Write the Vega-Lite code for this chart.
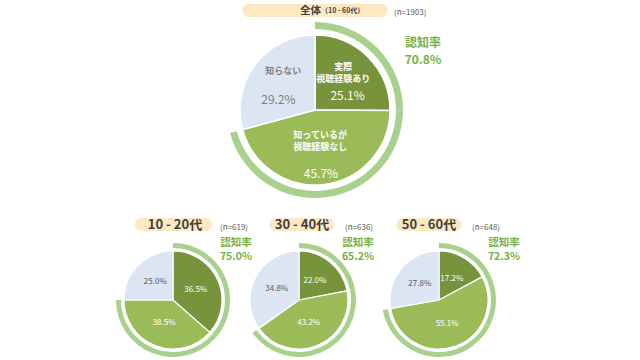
{
  "$schema": "https://vega.github.io/schema/vega-lite/v6.json",
  "padding": {"left": 0, "top": 4, "right": 0, "bottom": 0},
  "background": "white",
  "config": {"view": {"stroke": null}, "font": "Noto Sans CJK JP", "text": {"font": "Noto Sans CJK JP"}},
  "datasets": {
    "slices": [
      {"group": "全体", "cat": "実際視聴経験あり", "name": "実際\n視聴経験あり", "pct": 25.1},
      {"group": "全体", "cat": "知っているが視聴経験なし", "name": "知っているが\n視聴経験なし", "pct": 45.7},
      {"group": "全体", "cat": "知らない", "name": "知らない", "pct": 29.2},
      {"group": "10 - 20代", "cat": "実際視聴経験あり", "name": "実際\n視聴経験あり", "pct": 36.5},
      {"group": "10 - 20代", "cat": "知っているが視聴経験なし", "name": "知っているが\n視聴経験なし", "pct": 38.5},
      {"group": "10 - 20代", "cat": "知らない", "name": "知らない", "pct": 25.0},
      {"group": "30 - 40代", "cat": "実際視聴経験あり", "name": "実際\n視聴経験あり", "pct": 22.0},
      {"group": "30 - 40代", "cat": "知っているが視聴経験なし", "name": "知っているが\n視聴経験なし", "pct": 43.2},
      {"group": "30 - 40代", "cat": "知らない", "name": "知らない", "pct": 34.8},
      {"group": "50 - 60代", "cat": "実際視聴経験あり", "name": "実際\n視聴経験あり", "pct": 17.2},
      {"group": "50 - 60代", "cat": "知っているが視聴経験なし", "name": "知っているが\n視聴経験なし", "pct": 55.1},
      {"group": "50 - 60代", "cat": "知らない", "name": "知らない", "pct": 27.8}
    ],
    "groups": [
      {"group": "全体", "n": 1903, "rate": 70.8},
      {"group": "10 - 20代", "n": 619, "rate": 75.0},
      {"group": "30 - 40代", "n": 636, "rate": 65.2},
      {"group": "50 - 60代", "n": 648, "rate": 72.3}
    ]
  },
  "spacing": 20,
  "center": true,
  "resolve": {"scale": {"theta": "independent"}},
  "vconcat": [
    {
      "spacing": 5, "center": true, "bounds": "flush",
      "resolve": {"scale": {"theta": "independent"}},
      "vconcat": [
        {
          "width": 145, "height": 13,
          "view": {"fill": "#fce9c4", "stroke": null, "cornerRadius": 6},
          "data": {"name": "groups"},
          "transform": [{"filter": "datum.group === '全体'"}, {"calculate": "'(n=' + datum.n + ')'", "as": "nLabel"}],
          "layer": [
            {"mark": {"type": "text", "text": "全体", "align": "left", "dx": -15, "fontSize": 10.5, "fontWeight": "bold", "color": "#404040"}},
            {"mark": {"type": "text", "text": "（10 - 60代）", "align": "left", "dx": 6, "dy": 0.5, "fontSize": 7, "fontWeight": "bold", "color": "#404040"}},
            {"mark": {"type": "text", "align": "left", "dx": 79, "dy": 2, "fontSize": 8, "color": "#595959"}, "encoding": {"text": {"field": "nLabel"}}}
          ]
        },
        {
          "width": 630, "height": 176,
          "layer": [
            {
              "data": {"name": "slices"},
              "transform": [
                {"filter": "datum.group === '全体'"},
                {"calculate": "indexof(['実際視聴経験あり','知っているが視聴経験なし','知らない'], datum.cat)", "as": "k"},
                {"calculate": "format(datum.pct, '.1f') + '%'", "as": "pctLabel"}
              ],
              "layer": [
                {"mark": {"type": "arc", "radius": 88, "radius2": 81},
                 "encoding": {"theta": {"field": "pct", "type": "quantitative", "stack": true}, "order": {"field": "k", "type": "quantitative"},
                   "color": {"condition": {"test": "datum.cat !== '知らない'", "value": "#a9d18e"}, "value": "transparent"}}},
                {"mark": {"type": "arc", "radius": 75, "stroke": "white", "strokeWidth": 1.5},
                 "encoding": {"theta": {"field": "pct", "type": "quantitative", "stack": true}, "order": {"field": "k", "type": "quantitative"},
                   "color": {"field": "cat", "type": "nominal", "scale": {"domain": ["実際視聴経験あり", "知っているが視聴経験なし", "知らない"], "range": ["#77933c", "#9bbb59", "#dce6f2"]}, "legend": null}}},
                {"mark": {"type": "text", "radius": 40, "baseline": "bottom", "dy": -10, "lineBreak": "\n", "lineHeight": 12, "fontSize": 9, "fontWeight": "bold"},
                 "encoding": {"theta": {"field": "pct", "type": "quantitative", "stack": true}, "order": {"field": "k", "type": "quantitative"}, "detail": {"field": "cat"},
                   "text": {"field": "name"},
                   "color": {"condition": {"test": "datum.cat === '知らない'", "value": "#7f7f7f"}, "value": "white"}}},
                {"mark": {"type": "text", "radius": 46, "dy": 18, "fontSize": 12},
                 "encoding": {"theta": {"field": "pct", "type": "quantitative", "stack": true}, "order": {"field": "k", "type": "quantitative"}, "detail": {"field": "cat"},
                   "text": {"field": "pctLabel"},
                   "color": {"condition": {"test": "datum.cat === '知らない'", "value": "#7f7f7f"}, "value": "white"}}}
              ]
            },
            {
              "data": {"name": "groups"},
              "transform": [{"filter": "datum.group === '全体'"}, {"calculate": "format(datum.rate, '.1f') + '%'", "as": "rateLabel"}],
              "layer": [
                {"mark": {"type": "text", "text": "認知率", "dx": 108, "dy": -67, "fontSize": 12, "fontWeight": "bold", "color": "#76b043"}},
                {"mark": {"type": "text", "dx": 108, "dy": -50, "fontSize": 12, "fontWeight": "bold", "color": "#76b043"}, "encoding": {"text": {"field": "rateLabel"}}}
              ]
            }
          ]
        }
      ]
    },
    {
      "columns": 3,
      "spacing": {"row": 9, "column": 0},
      "align": "each",
      "bounds": "flush",
      "resolve": {"scale": {"theta": "independent"}},
      "concat": [
        {
          "width": 126, "height": 13,
          "data": {"name": "groups"},
          "transform": [{"filter": "datum.group === '10 - 20代'"}, {"calculate": "'(n=' + datum.n + ')'", "as": "nLabel"}],
          "layer": [
            {"mark": {"type": "point", "shape": "M -32 -6.5 L 32 -6.5 A 6.5 6.5 0 0 1 32 6.5 L -32 6.5 A 6.5 6.5 0 0 1 -32 -6.5 Z", "size": 4, "filled": true, "opacity": 1, "strokeWidth": 0, "color": "#fce9c4", "xOffset": 0.5}},
            {"mark": {"type": "text", "dx": 2, "fontSize": 13, "fontWeight": "bold", "color": "#404040"}, "encoding": {"text": {"field": "group"}}},
            {"mark": {"type": "text", "align": "left", "dx": 47, "dy": 3, "fontSize": 8, "color": "#595959"}, "encoding": {"text": {"field": "nLabel"}}}
          ]
        },
        {
          "width": 126, "height": 13,
          "data": {"name": "groups"},
          "transform": [{"filter": "datum.group === '30 - 40代'"}, {"calculate": "'(n=' + datum.n + ')'", "as": "nLabel"}],
          "layer": [
            {"mark": {"type": "point", "shape": "M -26 -6.5 L 26 -6.5 A 6.5 6.5 0 0 1 26 6.5 L -26 6.5 A 6.5 6.5 0 0 1 -26 -6.5 Z", "size": 4, "filled": true, "opacity": 1, "strokeWidth": 0, "color": "#fce9c4", "xOffset": 3}},
            {"mark": {"type": "text", "dx": 3, "fontSize": 13, "fontWeight": "bold", "color": "#404040"}, "encoding": {"text": {"field": "group"}}},
            {"mark": {"type": "text", "align": "left", "dx": 46, "dy": 3, "fontSize": 8, "color": "#595959"}, "encoding": {"text": {"field": "nLabel"}}}
          ]
        },
        {
          "width": 154, "height": 13,
          "data": {"name": "groups"},
          "transform": [{"filter": "datum.group === '50 - 60代'"}, {"calculate": "'(n=' + datum.n + ')'", "as": "nLabel"}],
          "layer": [
            {"mark": {"type": "point", "shape": "M -26 -6.5 L 26 -6.5 A 6.5 6.5 0 0 1 26 6.5 L -26 6.5 A 6.5 6.5 0 0 1 -26 -6.5 Z", "size": 4, "filled": true, "opacity": 1, "strokeWidth": 0, "color": "#fce9c4", "xOffset": -10}},
            {"mark": {"type": "text", "dx": -10, "fontSize": 13, "fontWeight": "bold", "color": "#404040"}, "encoding": {"text": {"field": "group"}}},
            {"mark": {"type": "text", "align": "left", "dx": 33, "dy": 3, "fontSize": 8, "color": "#595959"}, "encoding": {"text": {"field": "nLabel"}}}
          ]
        },
        {
          "width": 126, "height": 120,
          "layer": [
            {
              "data": {"name": "slices"},
              "transform": [
                {"filter": "datum.group === '10 - 20代'"},
                {"calculate": "indexof(['実際視聴経験あり','知っているが視聴経験なし','知らない'], datum.cat)", "as": "k"},
                {"calculate": "format(datum.pct, '.1f') + '%'", "as": "pctLabel"}
              ],
              "layer": [
                {"mark": {"type": "arc", "radius": 57, "radius2": 52},
                 "encoding": {"theta": {"field": "pct", "type": "quantitative", "stack": true}, "order": {"field": "k", "type": "quantitative"},
                   "color": {"condition": {"test": "datum.cat !== '知らない'", "value": "#a9d18e"}, "value": "transparent"}}},
                {"mark": {"type": "arc", "radius": 49, "stroke": "white", "strokeWidth": 1.2},
                 "encoding": {"theta": {"field": "pct", "type": "quantitative", "stack": true}, "order": {"field": "k", "type": "quantitative"},
                   "color": {"field": "cat", "type": "nominal", "scale": {"domain": ["実際視聴経験あり", "知っているが視聴経験なし", "知らない"], "range": ["#77933c", "#9bbb59", "#dce6f2"]}, "legend": null}}},
                {"mark": {"type": "text", "radius": 25, "fontSize": 8},
                 "encoding": {"theta": {"field": "pct", "type": "quantitative", "stack": true}, "order": {"field": "k", "type": "quantitative"}, "detail": {"field": "cat"},
                   "text": {"field": "pctLabel"},
                   "color": {"condition": {"test": "datum.cat === '知らない'", "value": "#595959"}, "value": "white"}}}
              ]
            },
            {
              "data": {"name": "groups"},
              "transform": [{"filter": "datum.group === '10 - 20代'"}, {"calculate": "format(datum.rate, '.1f') + '%'", "as": "rateLabel"}],
              "layer": [
                {"mark": {"type": "text", "text": "認知率", "dx": 63, "dy": -57, "fontSize": 10.5, "fontWeight": "bold", "color": "#76b043"}},
                {"mark": {"type": "text", "dx": 63, "dy": -43, "fontSize": 10.5, "fontWeight": "bold", "color": "#76b043"}, "encoding": {"text": {"field": "rateLabel"}}}
              ]
            }
          ]
        },
        {
          "width": 126, "height": 120,
          "layer": [
            {
              "data": {"name": "slices"},
              "transform": [
                {"filter": "datum.group === '30 - 40代'"},
                {"calculate": "indexof(['実際視聴経験あり','知っているが視聴経験なし','知らない'], datum.cat)", "as": "k"},
                {"calculate": "format(datum.pct, '.1f') + '%'", "as": "pctLabel"}
              ],
              "layer": [
                {"mark": {"type": "arc", "radius": 57, "radius2": 52},
                 "encoding": {"theta": {"field": "pct", "type": "quantitative", "stack": true}, "order": {"field": "k", "type": "quantitative"},
                   "color": {"condition": {"test": "datum.cat !== '知らない'", "value": "#a9d18e"}, "value": "transparent"}}},
                {"mark": {"type": "arc", "radius": 49, "stroke": "white", "strokeWidth": 1.2},
                 "encoding": {"theta": {"field": "pct", "type": "quantitative", "stack": true}, "order": {"field": "k", "type": "quantitative"},
                   "color": {"field": "cat", "type": "nominal", "scale": {"domain": ["実際視聴経験あり", "知っているが視聴経験なし", "知らない"], "range": ["#77933c", "#9bbb59", "#dce6f2"]}, "legend": null}}},
                {"mark": {"type": "text", "radius": 25, "fontSize": 8},
                 "encoding": {"theta": {"field": "pct", "type": "quantitative", "stack": true}, "order": {"field": "k", "type": "quantitative"}, "detail": {"field": "cat"},
                   "text": {"field": "pctLabel"},
                   "color": {"condition": {"test": "datum.cat === '知らない'", "value": "#595959"}, "value": "white"}}}
              ]
            },
            {
              "data": {"name": "groups"},
              "transform": [{"filter": "datum.group === '30 - 40代'"}, {"calculate": "format(datum.rate, '.1f') + '%'", "as": "rateLabel"}],
              "layer": [
                {"mark": {"type": "text", "text": "認知率", "dx": 59, "dy": -57, "fontSize": 10.5, "fontWeight": "bold", "color": "#76b043"}},
                {"mark": {"type": "text", "dx": 59, "dy": -43, "fontSize": 10.5, "fontWeight": "bold", "color": "#76b043"}, "encoding": {"text": {"field": "rateLabel"}}}
              ]
            }
          ]
        },
        {
          "width": 154, "height": 120,
          "layer": [
            {
              "data": {"name": "slices"},
              "transform": [
                {"filter": "datum.group === '50 - 60代'"},
                {"calculate": "indexof(['実際視聴経験あり','知っているが視聴経験なし','知らない'], datum.cat)", "as": "k"},
                {"calculate": "format(datum.pct, '.1f') + '%'", "as": "pctLabel"}
              ],
              "layer": [
                {"mark": {"type": "arc", "radius": 57, "radius2": 52},
                 "encoding": {"theta": {"field": "pct", "type": "quantitative", "stack": true}, "order": {"field": "k", "type": "quantitative"},
                   "color": {"condition": {"test": "datum.cat !== '知らない'", "value": "#a9d18e"}, "value": "transparent"}}},
                {"mark": {"type": "arc", "radius": 49, "stroke": "white", "strokeWidth": 1.2},
                 "encoding": {"theta": {"field": "pct", "type": "quantitative", "stack": true}, "order": {"field": "k", "type": "quantitative"},
                   "color": {"field": "cat", "type": "nominal", "scale": {"domain": ["実際視聴経験あり", "知っているが視聴経験なし", "知らない"], "range": ["#77933c", "#9bbb59", "#dce6f2"]}, "legend": null}}},
                {"mark": {"type": "text", "radius": 25, "fontSize": 8},
                 "encoding": {"theta": {"field": "pct", "type": "quantitative", "stack": true}, "order": {"field": "k", "type": "quantitative"}, "detail": {"field": "cat"},
                   "text": {"field": "pctLabel"},
                   "color": {"condition": {"test": "datum.cat === '知らない'", "value": "#595959"}, "value": "white"}}}
              ]
            },
            {
              "data": {"name": "groups"},
              "transform": [{"filter": "datum.group === '50 - 60代'"}, {"calculate": "format(datum.rate, '.1f') + '%'", "as": "rateLabel"}],
              "layer": [
                {"mark": {"type": "text", "text": "認知率", "dx": 65, "dy": -57, "fontSize": 10.5, "fontWeight": "bold", "color": "#76b043"}},
                {"mark": {"type": "text", "dx": 65, "dy": -43, "fontSize": 10.5, "fontWeight": "bold", "color": "#76b043"}, "encoding": {"text": {"field": "rateLabel"}}}
              ]
            }
          ]
        }
      ]
    }
  ]
}
